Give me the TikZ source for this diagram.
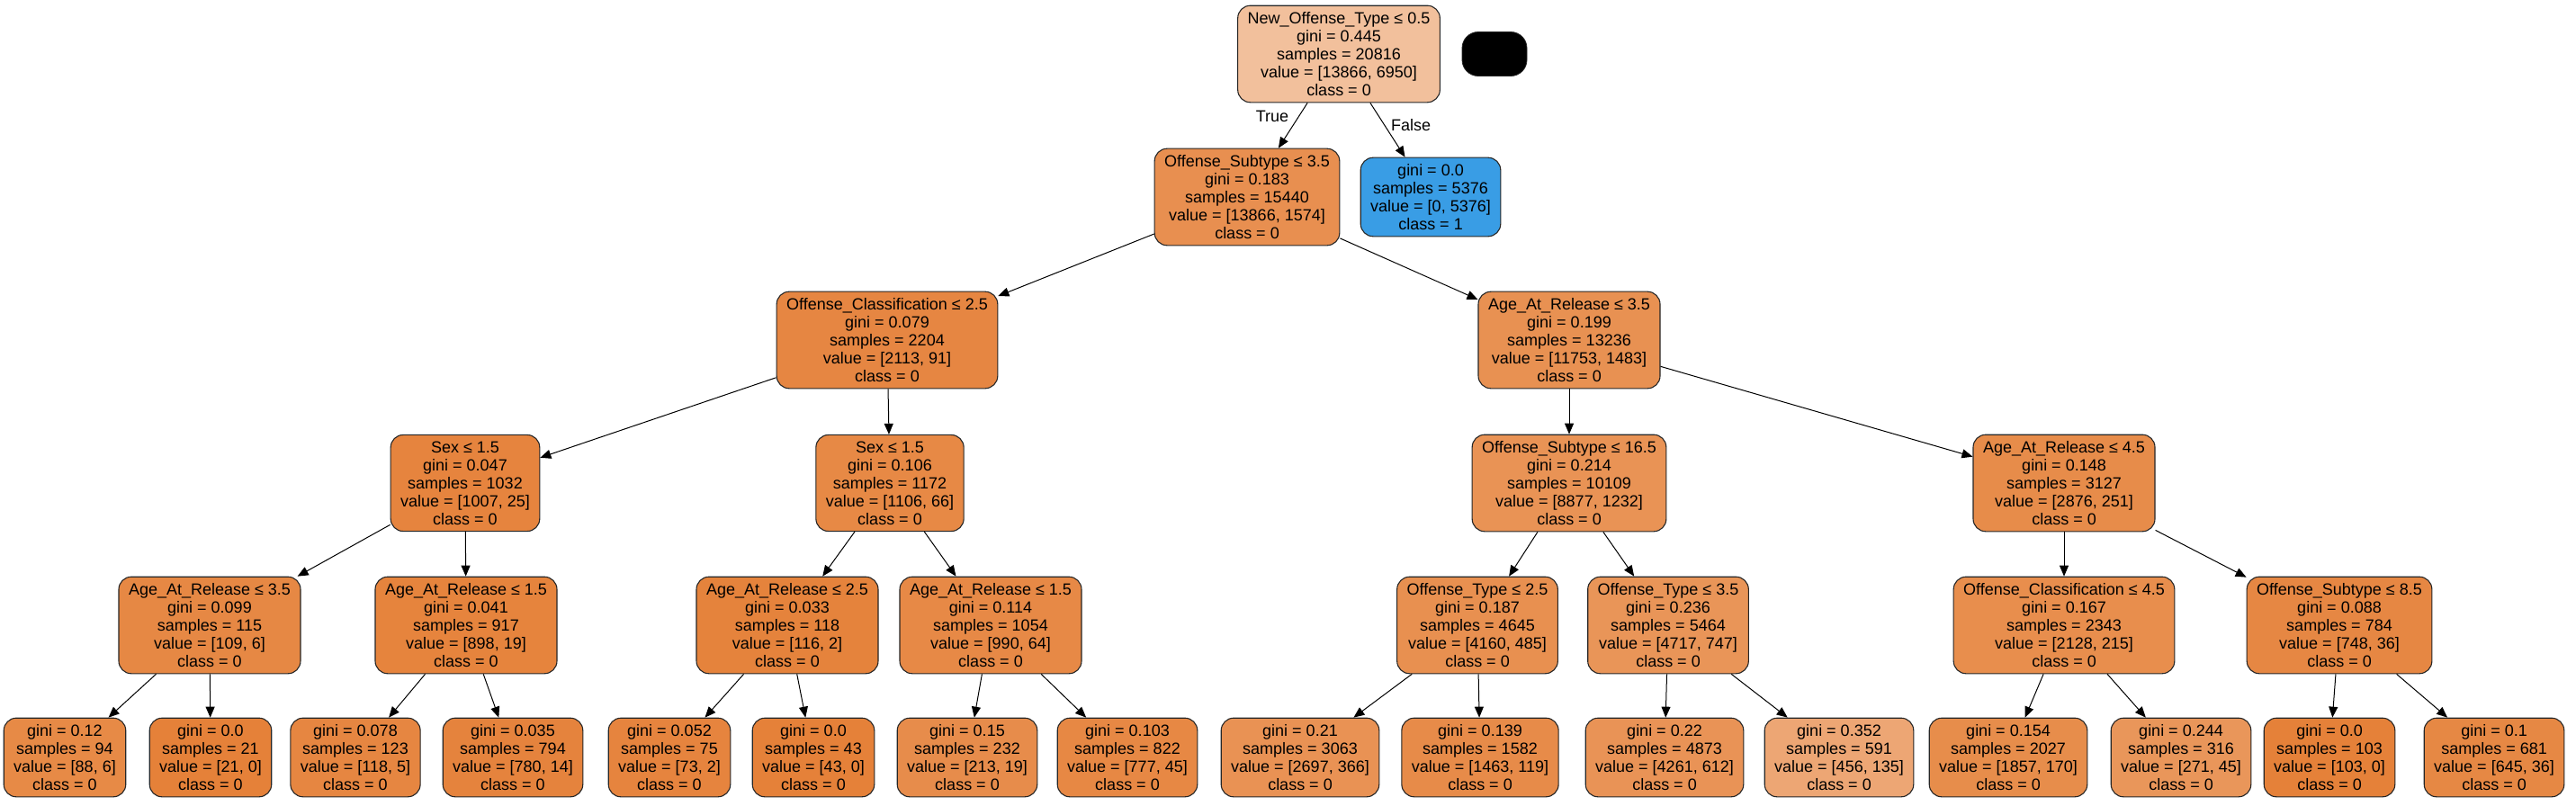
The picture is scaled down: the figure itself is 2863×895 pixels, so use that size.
\documentclass[tikz,border=0pt]{standalone}
\usepackage{fontspec}
\setmainfont{Liberation Sans}
\usetikzlibrary{arrows.meta}
\definecolor{cls0}{RGB}{229,129,57}
\definecolor{cls1}{RGB}{57,157,229}
\tikzset{
    nodo/.style={draw=black!85, line width=0.55pt, rounded corners=7pt, align=center,
        inner xsep=5.5pt, inner ysep=3.6pt, font=\fontsize{9}{10}\selectfont, fill=cls0!#1!white},
    freccia/.style={-{Triangle[length=6pt,width=5pt]}, line width=0.5pt},
    etichetta/.style={font=\fontsize{9}{10}\selectfont}
}
\begin{document}
\begin{tikzpicture}[x=0.5pt, y=-0.5pt]
        \useasboundingbox (0,0) rectangle (2863,895);

        % Radice e riquadro nero
        \node[nodo=49.9] (n0) at (1488,60) {New\_Offense\_Type ≤ 0.5\\gini = 0.445\\samples = 20816\\value = [13866, 6950]\\class = 0};
        \node[draw=black!85, fill=black, rounded corners=9pt, minimum width=36pt, minimum height=24.5pt] (blank) at (1661,60) {};

        % Livello 1
        \node[nodo=88.6] (n1) at (1386,219) {Offense\_Subtype ≤ 3.5\\gini = 0.183\\samples = 15440\\value = [13866, 1574]\\class = 0};
        \node[nodo=100, fill=cls1] (n2) at (1590,219) {gini = 0.0\\samples = 5376\\value = [0, 5376]\\class = 1};

        % Livello 2
        \node[nodo=95.7] (n3) at (986,378) {Offense\_Classification ≤ 2.5\\gini = 0.079\\samples = 2204\\value = [2113, 91]\\class = 0};
        \node[nodo=87.4] (n4) at (1744,378) {Age\_At\_Release ≤ 3.5\\gini = 0.199\\samples = 13236\\value = [11753, 1483]\\class = 0};

        % Livello 3
        \node[nodo=97.5] (n5) at (517,537) {Sex ≤ 1.5\\gini = 0.047\\samples = 1032\\value = [1007, 25]\\class = 0};
        \node[nodo=94.0] (n6) at (989,537) {Sex ≤ 1.5\\gini = 0.106\\samples = 1172\\value = [1106, 66]\\class = 0};
        \node[nodo=86.1] (n7) at (1744,537) {Offense\_Subtype ≤ 16.5\\gini = 0.214\\samples = 10109\\value = [8877, 1232]\\class = 0};
        \node[nodo=91.3] (n8) at (2294,537) {Age\_At\_Release ≤ 4.5\\gini = 0.148\\samples = 3127\\value = [2876, 251]\\class = 0};

        % Livello 4
        \node[nodo=94.5] (n9) at (233,695) {Age\_At\_Release ≤ 3.5\\gini = 0.099\\samples = 115\\value = [109, 6]\\class = 0};
        \node[nodo=97.9] (n10) at (518,695) {Age\_At\_Release ≤ 1.5\\gini = 0.041\\samples = 917\\value = [898, 19]\\class = 0};
        \node[nodo=98.3] (n11) at (875,695) {Age\_At\_Release ≤ 2.5\\gini = 0.033\\samples = 118\\value = [116, 2]\\class = 0};
        \node[nodo=93.5] (n12) at (1101,695) {Age\_At\_Release ≤ 1.5\\gini = 0.114\\samples = 1054\\value = [990, 64]\\class = 0};
        \node[nodo=88.3] (n13) at (1642,695) {Offense\_Type ≤ 2.5\\gini = 0.187\\samples = 4645\\value = [4160, 485]\\class = 0};
        \node[nodo=84.2] (n14) at (1854,695) {Offense\_Type ≤ 3.5\\gini = 0.236\\samples = 5464\\value = [4717, 747]\\class = 0};
        \node[nodo=89.9] (n15) at (2294,695) {Offense\_Classification ≤ 4.5\\gini = 0.167\\samples = 2343\\value = [2128, 215]\\class = 0};
        \node[nodo=95.2] (n16) at (2600,695) {Offense\_Subtype ≤ 8.5\\gini = 0.088\\samples = 784\\value = [748, 36]\\class = 0};

        % Foglie
        \node[nodo=93.2] (l1) at (72,842) {gini = 0.12\\samples = 94\\value = [88, 6]\\class = 0};
        \node[nodo=100] (l2) at (234,842) {gini = 0.0\\samples = 21\\value = [21, 0]\\class = 0};
        \node[nodo=95.8] (l3) at (395,842) {gini = 0.078\\samples = 123\\value = [118, 5]\\class = 0};
        \node[nodo=98.2] (l4) at (570,842) {gini = 0.035\\samples = 794\\value = [780, 14]\\class = 0};
        \node[nodo=97.3] (l5) at (744,842) {gini = 0.052\\samples = 75\\value = [73, 2]\\class = 0};
        \node[nodo=100] (l6) at (904,842) {gini = 0.0\\samples = 43\\value = [43, 0]\\class = 0};
        \node[nodo=91.1] (l7) at (1075,842) {gini = 0.15\\samples = 232\\value = [213, 19]\\class = 0};
        \node[nodo=94.2] (l8) at (1253,842) {gini = 0.103\\samples = 822\\value = [777, 45]\\class = 0};
        \node[nodo=86.4] (l9) at (1445,842) {gini = 0.21\\samples = 3063\\value = [2697, 366]\\class = 0};
        \node[nodo=91.9] (l10) at (1645,842) {gini = 0.139\\samples = 1582\\value = [1463, 119]\\class = 0};
        \node[nodo=85.6] (l11) at (1850,842) {gini = 0.22\\samples = 4873\\value = [4261, 612]\\class = 0};
        \node[nodo=70.4] (l12) at (2044,842) {gini = 0.352\\samples = 591\\value = [456, 135]\\class = 0};
        \node[nodo=90.8] (l13) at (2232,842) {gini = 0.154\\samples = 2027\\value = [1857, 170]\\class = 0};
        \node[nodo=83.4] (l14) at (2424,842) {gini = 0.244\\samples = 316\\value = [271, 45]\\class = 0};
        \node[nodo=100] (l15) at (2589,842) {gini = 0.0\\samples = 103\\value = [103, 0]\\class = 0};
        \node[nodo=94.4] (l16) at (2772,842) {gini = 0.1\\samples = 681\\value = [645, 36]\\class = 0};

        % Archi
        \draw[freccia] (n0) -- (n1);
        \draw[freccia] (n0) -- (n2);
        \node[etichetta] (vero) at (1414,129) {True};
        \node[etichetta] (falso) at (1568,139) {False};
        \draw[freccia] (n1) -- (n3);
        \draw[freccia] (n1) -- (n4);
        \draw[freccia] (n3) -- (n5);
        \draw[freccia] (n3) -- (n6);
        \draw[freccia] (n4) -- (n7);
        \draw[freccia] (n4) -- (n8);
        \draw[freccia] (n5) -- (n9);
        \draw[freccia] (n5) -- (n10);
        \draw[freccia] (n6) -- (n11);
        \draw[freccia] (n6) -- (n12);
        \draw[freccia] (n7) -- (n13);
        \draw[freccia] (n7) -- (n14);
        \draw[freccia] (n8) -- (n15);
        \draw[freccia] (n8) -- (n16);
        \draw[freccia] (n9) -- (l1);
        \draw[freccia] (n9) -- (l2);
        \draw[freccia] (n10) -- (l3);
        \draw[freccia] (n10) -- (l4);
        \draw[freccia] (n11) -- (l5);
        \draw[freccia] (n11) -- (l6);
        \draw[freccia] (n12) -- (l7);
        \draw[freccia] (n12) -- (l8);
        \draw[freccia] (n13) -- (l9);
        \draw[freccia] (n13) -- (l10);
        \draw[freccia] (n14) -- (l11);
        \draw[freccia] (n14) -- (l12);
        \draw[freccia] (n15) -- (l13);
        \draw[freccia] (n15) -- (l14);
        \draw[freccia] (n16) -- (l15);
        \draw[freccia] (n16) -- (l16);
\end{tikzpicture}
\end{document}
